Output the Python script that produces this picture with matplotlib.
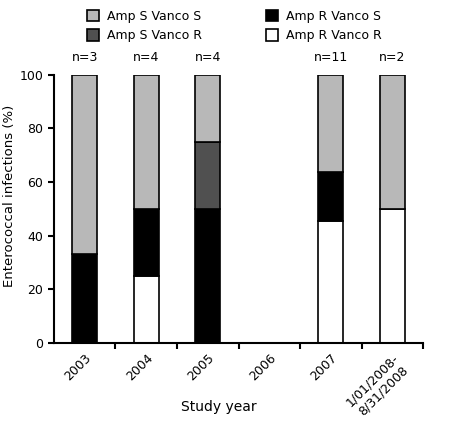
import numpy as np
import matplotlib.pyplot as plt
from matplotlib.patches import Patch

years = ["2003", "2004", "2005", "2006", "2007", "1/01/2008-\n8/31/2008"]
n_labels = ["n=3", "n=4", "n=4", "", "n=11", "n=2"]

# percent of infections, stacked bottom to top
amp_r_vanco_r = [0, 25, 0, 0, 45.5, 50]
amp_r_vanco_s = [33.3, 25, 50, 0, 18.2, 0]
amp_s_vanco_r = [0, 0, 25, 0, 0, 0]
amp_s_vanco_s = [66.7, 50, 25, 0, 36.3, 50]

series = [
    ("Amp R Vanco R", amp_r_vanco_r, "white"),
    ("Amp R Vanco S", amp_r_vanco_s, "black"),
    ("Amp S Vanco R", amp_s_vanco_r, "#505050"),
    ("Amp S Vanco S", amp_s_vanco_s, "#b8b8b8"),
]

plt.rcParams['font.family'] = 'DejaVu Sans'

fig = plt.figure(figsize=(4.53, 4.3), dpi=100)
ax = fig.add_axes([0.119, 0.202, 0.815, 0.624])

x = np.arange(len(years))
bottom = np.zeros(len(years))
for name, vals, color in series:
    vals = np.array(vals)
    mask = vals > 0
    ax.bar(x[mask], vals[mask], 0.4, bottom=bottom[mask], color=color,
           edgecolor="black", linewidth=1.2)
    bottom += vals

for xi, lab in zip(x, n_labels):
    ax.text(xi, 104, lab, ha="center", va="bottom", fontsize=9)

ax.set_xlim(-0.5, len(years) - 0.5)
ax.set_ylim(0, 100)
ax.set_yticks([0, 20, 40, 60, 80, 100])
ax.set_xticks(x)
ax.set_xticklabels(years, rotation=45, ha="right", rotation_mode="anchor",
                   fontsize=9, multialignment="center")
ax.set_xticks(np.arange(0.5, len(years), 1), minor=True)
ax.tick_params(axis="x", which="major", length=0, pad=6)
ax.tick_params(axis="x", which="minor", length=4, width=1.5)
ax.tick_params(axis="y", length=4, width=1.5, labelsize=9)

for s in ["top", "right"]:
    ax.spines[s].set_visible(False)
for s in ["left", "bottom"]:
    ax.spines[s].set_linewidth(1.5)

ax.set_ylabel("Enterococcal infections (%)", fontsize=9.5)
ax.yaxis.set_label_coords(-0.102, 0.55)
fig.text(219 / 453, 1 - 407 / 430, "Study year", ha="center", va="center",
         fontsize=10)

handles = [Patch(facecolor=c, edgecolor="black", linewidth=1.2, label=n)
           for n, _, c in series]
order = [3, 2, 1, 0]
fig.legend([handles[i] for i in order], [series[i][0] for i in order],
           loc="upper left", bbox_to_anchor=(0.167, 1.003), ncol=2,
           frameon=False, fontsize=9, handlelength=1.0, handleheight=1.0,
           handletextpad=0.6, columnspacing=5.1, labelspacing=0.5)

fig.savefig("out.png", dpi=100)
